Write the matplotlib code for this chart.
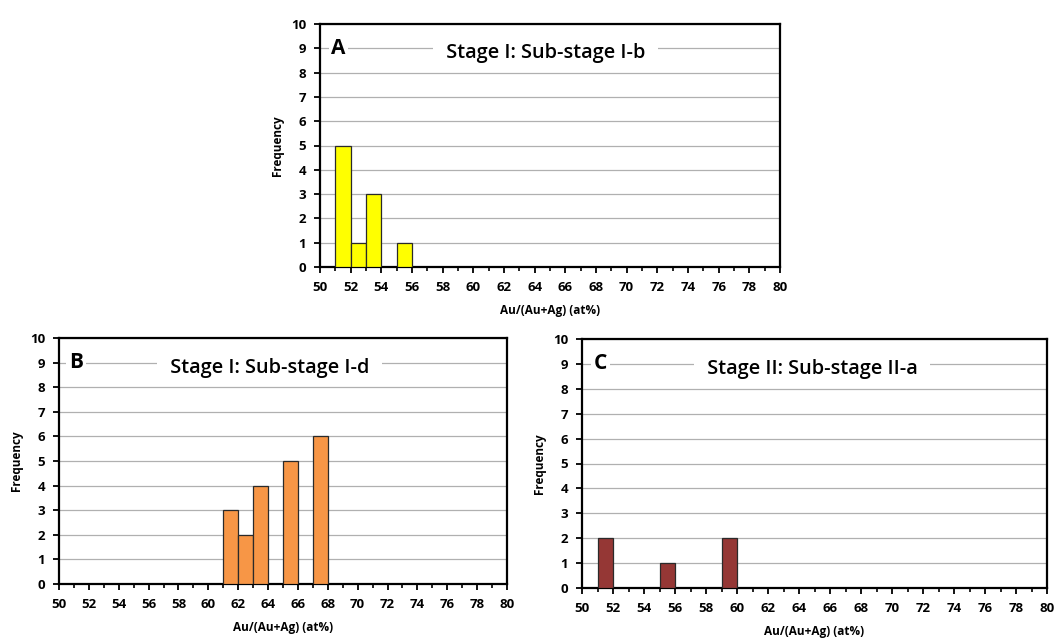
import matplotlib
matplotlib.use("Agg")
import matplotlib.pyplot as plt
import numpy as np

plt.rcParams['font.family'] = ['Open Sans', 'DejaVu Sans']

# Data: bins are 1 at% wide, identified by their upper edge
bins_A = [52, 53, 54, 56]
counts_A = [5, 1, 3, 1]
bins_B = [62, 63, 64, 66, 68]
counts_B = [3, 2, 4, 5, 6]
bins_C = [52, 56, 60]
counts_C = [2, 1, 2]

x_ticks = list(range(50, 81, 2))
y_ticks = list(range(0, 11))

W, H = 1054, 640
fig = plt.figure(figsize=(W / 100, H / 100), dpi=100)


def px_axes(left, top, right, bottom):
    return fig.add_axes([left / W, 1 - bottom / H, (right - left) / W, (bottom - top) / H])


panels = [
    dict(box=(320, 24, 780, 267), bins=bins_A, counts=counts_A, color='#ffff00',
         letter='A', title='Stage I: Sub-stage I-b', lx=0.04, tx=0.49),
    dict(box=(59, 338, 507, 584), bins=bins_B, counts=counts_B, color='#f79646',
         letter='B', title='Stage I: Sub-stage I-d', lx=0.038, tx=0.47),
    dict(box=(582, 339, 1047, 588), bins=bins_C, counts=counts_C, color='#953735',
         letter='C', title='Stage II: Sub-stage II-a', lx=0.039, tx=0.495),
]

for p in panels:
    ax = px_axes(*p['box'])
    edges = np.array(p['bins']) - 1
    ax.bar(edges, p['counts'], width=1, align='edge', color=p['color'],
           edgecolor='#2a2a2a', linewidth=0.9, zorder=3)
    ax.set_xlim(50, 80)
    ax.set_ylim(0, 10)
    ax.set_xticks(x_ticks)
    ax.set_xticklabels([str(v) for v in x_ticks], fontsize=9.5, fontweight='bold')
    ax.set_xticks(range(50, 81), minor=True)
    ax.set_yticks(y_ticks)
    ax.set_yticklabels([str(v) for v in y_ticks], fontsize=9.5, fontweight='bold')
    ax.yaxis.grid(True, color='#b0b0b0', linewidth=0.9, zorder=0)
    ax.set_axisbelow(True)
    for s in ax.spines.values():
        s.set_linewidth(1.6)
        s.set_color('black')
    ax.tick_params(axis='both', which='major', direction='out', length=4, width=1.3)
    ax.tick_params(axis='x', which='major', pad=6)
    ax.tick_params(axis='y', which='major', pad=6)
    ax.tick_params(axis='x', which='minor', direction='out', length=3, width=1.2)
    ax.set_ylabel('Frequency', fontsize=8.5, fontweight='bold', labelpad=5)
    ax.set_xlabel('Au/(Au+Ag) (at%)', fontsize=8.5, fontweight='bold', labelpad=7)
    ax.text(p['lx'], 9, p['letter'], transform=ax.get_yaxis_transform(),
            fontsize=15, fontweight='bold', ha='center', va='center', zorder=5,
            bbox=dict(facecolor='white', edgecolor='none', pad=2))
    ax.text(p['tx'], 8.8, '  ' + p['title'] + '  ', transform=ax.get_yaxis_transform(),
            fontsize=14.3, fontweight='semibold', ha='center', va='center', zorder=5,
            bbox=dict(facecolor='white', edgecolor='none', pad=2))

fig.savefig('out.png', dpi=100, facecolor='white')
